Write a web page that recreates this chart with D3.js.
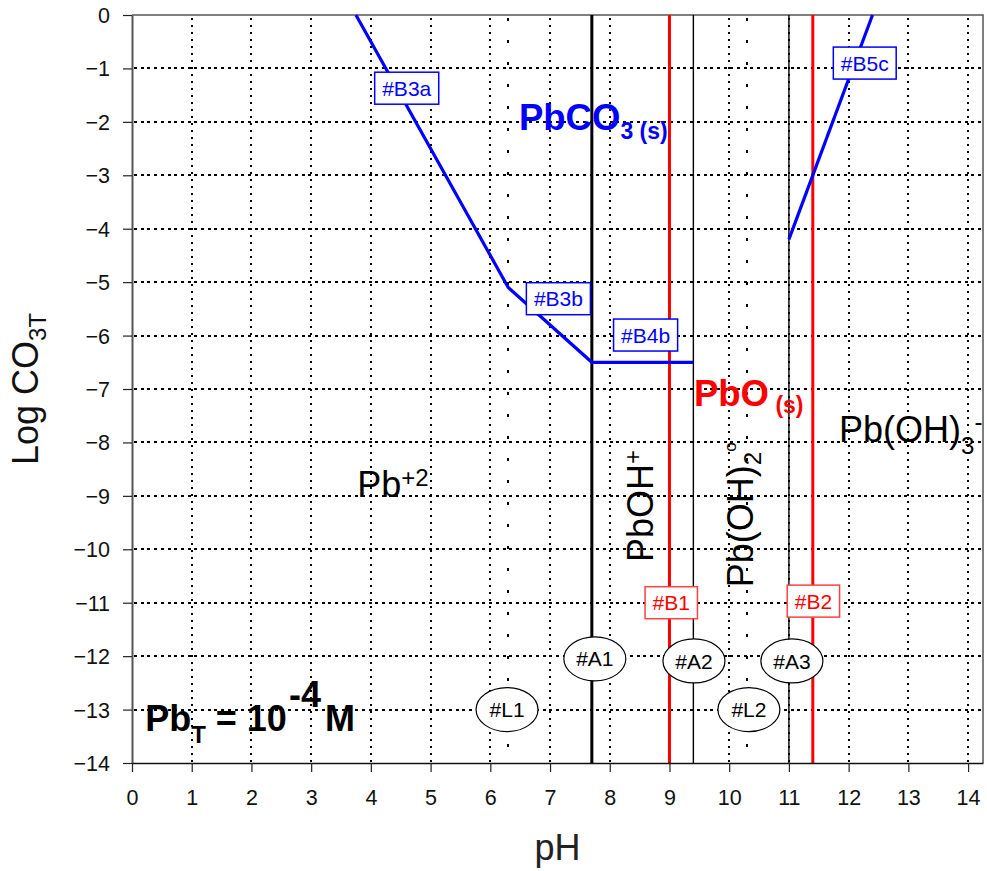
<!DOCTYPE html>
<html>
<head>
<meta charset="utf-8">
<script src="https://cdn.jsdelivr.net/npm/d3@7"></script>
<style>
  body { margin: 0; background: #fff; }
  svg { display: block; font-family: "Liberation Sans", Arial, sans-serif; }
</style>
</head>
<body>
<script>
// axis ticks
const phTicks = d3.range(0, 15);
const logCTicks = d3.range(-14, 1);

// PbCO3(s) boundary lines, [pH, log CO3T]
const carbonateLow = [[3.75, 0], [6.3, -5.1], [7.7, -6.5], [9.4, -6.5]];
const carbonateHigh = [[11.0, -4.2], [12.4, 0]];

// boundaries between dissolved lead species (pH)
const hydroxoBounds = [7.7, 9.4, 11.0];
// PbO(s) edges (pH)
const oxideBounds = [9.0, 11.4];
// carbonate pKa lines (pH)
const ligandBounds = [6.3, 10.3];

// tags
const blueTags = ["#B3a", "#B3b", "#B4b", "#B5c"];
const blueTagAt = [[4.6, -1.37], [7.14, -5.31], [8.6, -5.99], [12.27, -0.9]];
const redTags = ["#B1", "#B2"];
const redTagAt = [[9.03, -11.0], [11.41, -10.97]];
const ovalTags = ["#A1", "#A2", "#A3", "#L1", "#L2"];
const ovalTagAt = [[7.75, -12.05], [9.41, -12.09], [11.05, -12.09], [6.28, -13.0], [10.33, -13.0]];

const width = 987, height = 871;
const x = d3.scaleLinear().domain([0, 14.25]).range([132, 983]);
const y = d3.scaleLinear().domain([-14, 0]).range([763, 15]);
const rx = d => Math.round(x(d));
const ry = d => Math.round(y(d));

const svg = d3.select("body").append("svg")
  .attr("width", width)
  .attr("height", height);

// grid
const grid = svg.append("g")
  .attr("stroke", "#000")
  .attr("stroke-width", 2)
  .attr("shape-rendering", "crispEdges");
grid.selectAll("line.v")
  .data(phTicks.filter(d => d > 0))
  .join("line")
  .attr("x1", rx).attr("x2", rx)
  .attr("y1", y(0) + 3).attr("y2", y(-14))
  .attr("stroke-dasharray", "2,5");
grid.selectAll("line.h")
  .data(logCTicks.filter(d => d > -14 && d < 0))
  .join("line")
  .attr("x1", x(0) + 2).attr("x2", x(14.25))
  .attr("y1", ry).attr("y2", ry)
  .attr("stroke-dasharray", "3,3.7");

// sparse dotted ligand lines
svg.append("g")
  .attr("shape-rendering", "crispEdges")
  .selectAll("line")
  .data(ligandBounds)
  .join("line")
  .attr("x1", rx).attr("x2", rx)
  .attr("y1", y(0) + 3).attr("y2", y(-14))
  .attr("stroke", "#000")
  .attr("stroke-width", 2)
  .attr("stroke-dasharray", "3,19");

// frame (top / right)
svg.append("path")
  .attr("d", `M${x(0)},${y(0)}H${x(14.25)}V${y(-14)}`)
  .attr("fill", "none")
  .attr("stroke", "#555")
  .attr("stroke-width", 1.5);

// vertical species boundaries
svg.append("g")
  .selectAll("line")
  .data(hydroxoBounds)
  .join("line")
  .attr("x1", d => x(d)).attr("x2", d => x(d))
  .attr("y1", y(0)).attr("y2", y(-14))
  .attr("stroke", "#000")
  .attr("stroke-width", (d, i) => (i === 0 ? 3 : 1.4));

svg.append("g")
  .selectAll("line")
  .data(oxideBounds)
  .join("line")
  .attr("x1", d => x(d)).attr("x2", d => x(d))
  .attr("y1", y(0)).attr("y2", y(-14))
  .attr("stroke", "#ff0000")
  .attr("stroke-width", 3);

// carbonate lines
const line = d3.line().x(d => x(d[0])).y(d => y(d[1]));
svg.append("g")
  .selectAll("path")
  .data([carbonateLow, carbonateHigh])
  .join("path")
  .attr("d", line)
  .attr("fill", "none")
  .attr("stroke", "#0000ff")
  .attr("stroke-width", 3.2);

// axes
const axisLeft = svg.append("g")
  .attr("transform", `translate(${x(0)},0)`)
  .call(d3.axisLeft(y).tickValues(logCTicks).tickSize(9).tickPadding(13).tickSizeOuter(0));
const axisBottom = svg.append("g")
  .attr("transform", `translate(0,${y(-14)})`)
  .call(d3.axisBottom(x).tickValues(phTicks).tickSize(9).tickPadding(18).tickSizeOuter(0));
[axisLeft, axisBottom].forEach(g => {
  g.selectAll(".tick line").attr("stroke", "#222").attr("stroke-width", 1.2);
  g.selectAll(".tick text")
    .attr("font-size", 21.5)
    .attr("font-family", "'Liberation Sans', Arial, sans-serif")
    .attr("fill", "#111");
});
axisLeft.select(".domain").attr("stroke", "#555").attr("stroke-width", 2);
axisBottom.select(".domain").attr("stroke", "#111").attr("stroke-width", 1.5);
axisLeft.selectAll(".tick text").attr("dy", "0.35em");
axisBottom.selectAll(".tick text").attr("dy", "0.72em");

// helper for text with sub/superscripts: parts = [text, size, dy, dx]
function rich(g, parts, attrs) {
  const t = g.append("text");
  Object.entries(attrs).forEach(([k, v]) => t.attr(k, v));
  parts.forEach(([s, size, dy, dx]) => {
    const ts = t.append("tspan").attr("font-size", size).attr("dy", dy).text(s);
    if (dx) ts.attr("dx", dx);
  });
  return t;
}

const labels = svg.append("g");

// axis titles
rich(labels, [["pH", 36, 0]], {
  x: (x(0) + x(14.25)) / 2, y: 860, "text-anchor": "middle", fill: "#222"
});
rich(labels, [["Log CO", 36, 0], ["3T", 24, 8]], {
  transform: `translate(38,${(y(0) + y(-14)) / 2}) rotate(-90)`,
  "text-anchor": "middle", fill: "#111"
});

// species
rich(labels, [["Pb", 36, 0], ["+2", 24, -11]], {
  x: x(3.77), y: y(-9.02), fill: "#000"
});
rich(labels, [["PbOH", 36, 0], ["+", 24, -12]], {
  transform: `translate(${x(8.72)},${y(-10.24)}) rotate(-90)`, fill: "#000"
});
rich(labels, [["Pb(OH)", 36, 0], ["2", 24, 8], ["o", 17, -25]], {
  transform: `translate(${x(10.4)},${y(-10.71)}) rotate(-90)`, fill: "#000"
});
rich(labels, [["Pb(OH)", 36, 0], ["3", 24, 12], ["-", 24, -24]], {
  x: x(11.84), y: y(-7.99), fill: "#000"
});
rich(labels, [["PbCO", 36.5, 0], ["3 (s)", 23, 9]], {
  x: x(6.48), y: y(-2.15), fill: "#0000ff", "font-weight": "bold"
});
rich(labels, [["PbO", 36.5, 0], [" (s)", 23, 7]], {
  x: x(9.41), y: y(-7.32), fill: "#ff0000", "font-weight": "bold"
});
rich(labels, [["Pb", 36, 0], ["T", 24, 12], [" = 10", 36, -12], ["-4", 36, -24, 2], ["M", 36, 24, 4]], {
  x: x(0.22), y: y(-13.4), fill: "#000", "font-weight": "bold"
});

// boxed tags
function boxTags(tags, at, color, border) {
  const g = svg.append("g")
    .selectAll("g")
    .data(tags)
    .join("g")
    .attr("transform", (d, i) => `translate(${x(at[i][0])},${y(at[i][1])})`);
  g.append("text")
    .attr("text-anchor", "middle")
    .attr("dy", "0.36em")
    .attr("font-size", 21)
    .attr("fill", color)
    .text(d => d);
  g.each(function () {
    const grp = d3.select(this);
    const w = grp.select("text").node().getComputedTextLength() + 15;
    grp.insert("rect", "text")
      .attr("x", -w / 2).attr("y", -16)
      .attr("width", w).attr("height", 32)
      .attr("fill", "#fff")
      .attr("stroke", border)
      .attr("stroke-width", 1.5);
  });
}
boxTags(blueTags, blueTagAt, "#0000ff", "#0000ff");
boxTags(redTags, redTagAt, "#ff0000", "#ff4040");

// oval tags
const ovals = svg.append("g")
  .selectAll("g")
  .data(ovalTags)
  .join("g")
  .attr("transform", (d, i) => `translate(${x(ovalTagAt[i][0])},${y(ovalTagAt[i][1])})`);
ovals.append("ellipse")
  .attr("rx", 31).attr("ry", 22)
  .attr("fill", "#fff")
  .attr("stroke", "#000")
  .attr("stroke-width", 1.2);
ovals.append("text")
  .attr("text-anchor", "middle")
  .attr("dy", "0.36em")
  .attr("font-size", 21)
  .attr("fill", "#000")
  .text(d => d);
</script>
</body>
</html>
